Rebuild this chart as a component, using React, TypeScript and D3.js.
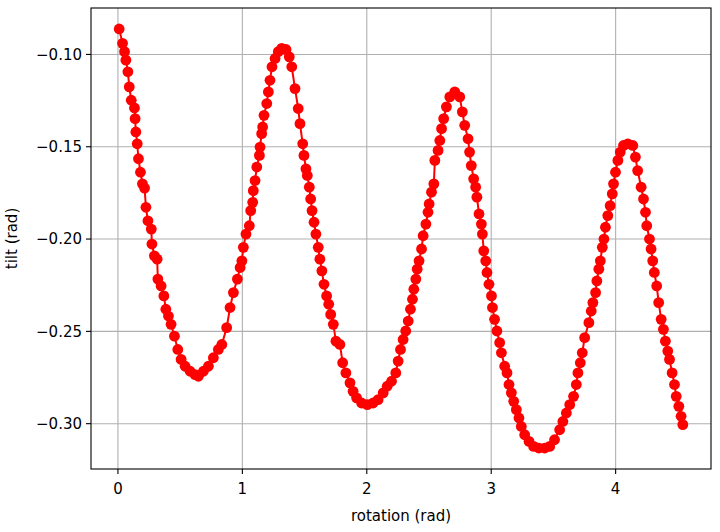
import * as d3 from "d3";

// rotation (rad) / tilt (rad)
const rotation = [
  0.010, 0.037, 0.053, 0.064, 0.080, 0.091, 0.107, 0.133, 0.138, 0.144,
  0.155, 0.165, 0.181, 0.197, 0.214, 0.225, 0.241, 0.268, 0.273, 0.293,
  0.315, 0.321, 0.347, 0.369, 0.385, 0.406, 0.427, 0.454, 0.481, 0.508,
  0.540, 0.580, 0.620, 0.647, 0.687, 0.727, 0.767, 0.807,
  0.835, 0.874, 0.901, 0.928, 0.960, 0.982, 0.996, 1.008, 1.029, 1.056,
  1.067, 1.083, 1.088, 1.102, 1.116, 1.137, 1.142, 1.155, 1.163, 1.174,
  1.196, 1.209, 1.222, 1.238, 1.263, 1.289, 1.316, 1.351, 1.377, 1.397,
  1.423, 1.449, 1.463, 1.485, 1.495, 1.511, 1.522, 1.538, 1.549, 1.560,
  1.576, 1.591, 1.610, 1.623, 1.639, 1.656, 1.677, 1.694, 1.710, 1.731,
  1.752, 1.784, 1.806, 1.832, 1.865, 1.890, 1.918, 1.958, 2.004, 2.051,
  2.091, 2.132, 2.164, 2.199, 2.233, 2.252, 2.271, 2.292, 2.313, 2.333,
  2.351, 2.367, 2.378, 2.394, 2.405,
  2.420, 2.440, 2.453, 2.475, 2.492, 2.501, 2.520, 2.539, 2.547, 2.573,
  2.587, 2.601, 2.618, 2.640, 2.667, 2.707, 2.747,
  2.768, 2.787, 2.814, 2.826, 2.840, 2.859, 2.875, 2.885, 2.902, 2.921,
  2.929, 2.940, 2.956, 2.966, 2.982, 3.002, 3.010, 3.027, 3.046, 3.068,
  3.082, 3.108, 3.127, 3.143, 3.162, 3.181, 3.202, 3.223, 3.242, 3.269,
  3.304, 3.341, 3.383, 3.430, 3.470, 3.509, 3.550, 3.576, 3.604, 3.631,
  3.662, 3.684, 3.697, 3.716, 3.732, 3.751, 3.785, 3.804, 3.817,
  3.839, 3.849, 3.865, 3.877, 3.893, 3.906, 3.918, 3.937, 3.956, 3.973,
  3.983, 3.999, 4.018, 4.037, 4.063, 4.098, 4.138, 4.159, 4.177, 4.205,
  4.224, 4.240, 4.250, 4.272, 4.285, 4.298, 4.311, 4.330, 4.346, 4.366,
  4.384, 4.400, 4.419, 4.433, 4.454, 4.473, 4.487, 4.508, 4.526, 4.540,
];

const tilt = [
  -0.0862, -0.0940, -0.0985, -0.1031, -0.1094, -0.1176, -0.1248, -0.1290, -0.1348, -0.1420,
  -0.1484, -0.1565, -0.1638, -0.1701, -0.1724, -0.1828, -0.1901, -0.1946, -0.2027, -0.2091,
  -0.2109, -0.2217, -0.2254, -0.2308, -0.2380, -0.2417, -0.2462, -0.2526, -0.2598, -0.2652,
  -0.2689, -0.2716, -0.2734, -0.2743, -0.2716, -0.2689, -0.2643, -0.2598,
  -0.2571, -0.2480, -0.2371, -0.2290, -0.2217, -0.2154, -0.2118, -0.2045, -0.1973, -0.1928,
  -0.1846, -0.1801, -0.1738, -0.1683, -0.1610, -0.1547, -0.1502, -0.1429, -0.1393, -0.1330,
  -0.1266, -0.1203, -0.1140, -0.1067, -0.1022, -0.0985, -0.0967, -0.0973, -0.1013, -0.1067,
  -0.1185, -0.1293, -0.1375, -0.1484, -0.1547, -0.1620, -0.1656, -0.1719, -0.1783, -0.1846,
  -0.1909, -0.1973, -0.2045, -0.2109, -0.2172, -0.2245, -0.2308, -0.2353, -0.2408, -0.2462,
  -0.2553, -0.2571, -0.2670, -0.2725, -0.2779, -0.2825, -0.2860, -0.2888, -0.2897, -0.2888,
  -0.2870, -0.2833, -0.2797, -0.2770, -0.2725, -0.2661, -0.2598, -0.2544, -0.2498, -0.2444,
  -0.2380, -0.2326, -0.2272, -0.2217, -0.2163,
  -0.2118, -0.2054, -0.1982, -0.1919, -0.1855, -0.1810, -0.1746, -0.1701, -0.1574, -0.1520,
  -0.1466, -0.1402, -0.1348, -0.1284, -0.1230, -0.1203, -0.1230,
  -0.1311, -0.1384, -0.1457, -0.1529, -0.1602, -0.1674, -0.1719, -0.1773, -0.1864, -0.1919,
  -0.1973, -0.2064, -0.2118, -0.2181, -0.2245, -0.2308, -0.2371, -0.2435, -0.2498, -0.2561,
  -0.2616, -0.2689, -0.2725, -0.2788, -0.2833, -0.2879, -0.2924, -0.2969, -0.3015, -0.3060,
  -0.3096, -0.3123, -0.3132, -0.3132, -0.3123, -0.3087, -0.3033, -0.2988, -0.2942, -0.2897,
  -0.2852, -0.2788, -0.2725, -0.2670, -0.2616, -0.2534, -0.2453, -0.2390, -0.2344,
  -0.2290, -0.2227, -0.2163, -0.2118, -0.2045, -0.2000, -0.1936, -0.1873, -0.1819, -0.1755,
  -0.1701, -0.1638, -0.1574, -0.1529, -0.1493, -0.1484, -0.1493, -0.1556, -0.1629, -0.1719,
  -0.1783, -0.1855, -0.1928, -0.2000, -0.2054, -0.2118, -0.2181, -0.2254, -0.2344, -0.2435,
  -0.2489, -0.2553, -0.2607, -0.2652, -0.2725, -0.2788, -0.2852, -0.2906, -0.2960, -0.3005,
];

const xTicks = [0, 1, 2, 3, 4];
const yTicks = [-0.3, -0.25, -0.2, -0.15, -0.1];

const W = 720;
const H = 532;
const box = { left: 91, right: 711, top: 8, bottom: 469 };
const FONT = "DejaVu Sans, sans-serif";

export default function App() {
  const points = rotation.map((r, i) => [r, tilt[i]] as [number, number]);

  // matplotlib-style 5% margins around the data
  const [x0, x1] = d3.extent(rotation) as [number, number];
  const [y0, y1] = d3.extent(tilt) as [number, number];
  const mx = (x1 - x0) * 0.05;
  const my = (y1 - y0) * 0.05;

  const x = d3.scaleLinear().domain([x0 - mx, x1 + mx]).range([box.left, box.right]);
  const y = d3.scaleLinear().domain([y0 - my, y1 + my]).range([box.bottom, box.top]);

  const line = d3
    .line<[number, number]>()
    .x((d) => x(d[0]))
    .y((d) => y(d[1]));

  const fmtY = d3.format(".2f");

  return (
    <svg
      width={W}
      height={H}
      style={{ position: "absolute", left: 0, top: 0, background: "#fff" }}
      fontFamily={FONT}
    >
      {/* grid */}
      <g stroke="#b0b0b0" strokeWidth={1.1}>
        {xTicks.map((t) => (
          <line key={`gx${t}`} x1={x(t)} x2={x(t)} y1={box.top} y2={box.bottom} />
        ))}
        {yTicks.map((t) => (
          <line key={`gy${t}`} x1={box.left} x2={box.right} y1={y(t)} y2={y(t)} />
        ))}
      </g>

      {/* series */}
      <path d={line(points) ?? ""} fill="none" stroke="#ff0000" strokeWidth={2} />
      <g fill="#ff0000">
        {points.map((d, i) => (
          <circle key={i} cx={x(d[0])} cy={y(d[1])} r={5.4} />
        ))}
      </g>

      {/* frame */}
      <rect
        x={box.left}
        y={box.top}
        width={box.right - box.left}
        height={box.bottom - box.top}
        fill="none"
        stroke="#000"
        strokeWidth={1.1}
      />

      {/* x axis */}
      <g fontSize={15} fill="#000" textAnchor="middle">
        {xTicks.map((t) => (
          <g key={`tx${t}`}>
            <line x1={x(t)} x2={x(t)} y1={box.bottom} y2={box.bottom + 5} stroke="#000" strokeWidth={1.1} />
            <text x={x(t)} y={box.bottom + 25}>{t}</text>
          </g>
        ))}
        <text x={(box.left + box.right) / 2} y={521}>rotation (rad)</text>
      </g>

      {/* y axis */}
      <g fontSize={15} fill="#000" textAnchor="end">
        {yTicks.map((t) => (
          <g key={`ty${t}`}>
            <line x1={box.left - 5} x2={box.left} y1={y(t)} y2={y(t)} stroke="#000" strokeWidth={1.1} />
            <text x={box.left - 9} y={y(t)} dy="0.35em">{fmtY(t)}</text>
          </g>
        ))}
        <text
          transform={`translate(17,${(box.top + box.bottom) / 2}) rotate(-90)`}
          textAnchor="middle"
        >
          tilt (rad)
        </text>
      </g>
    </svg>
  );
}
